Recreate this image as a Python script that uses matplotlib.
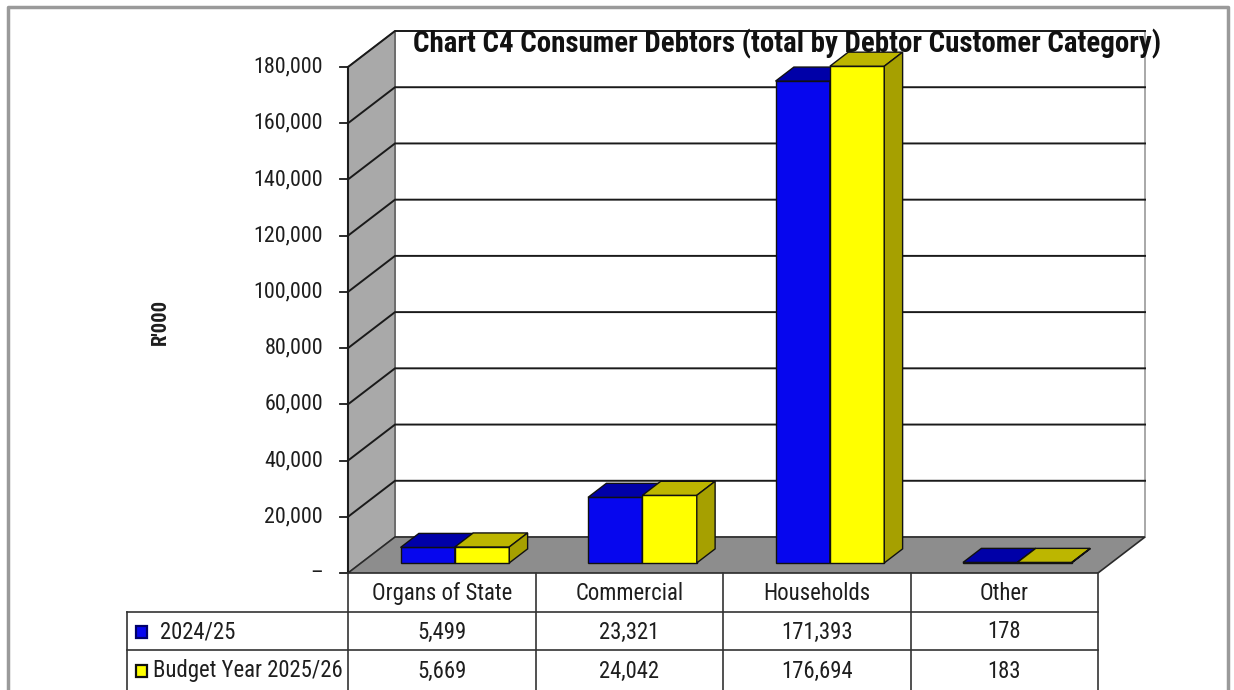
import matplotlib
matplotlib.use('Agg')
import matplotlib.pyplot as plt
from matplotlib.patches import Polygon, Rectangle
from matplotlib.transforms import blended_transform_factory

# data
categories = ['Organs of State', 'Commercial', 'Households', 'Other']
series_names = ['2024/25', 'Budget Year 2025/26']
values_2024 = [5499, 23321, 171393, 178]
values_2025 = [5669, 24042, 176694, 183]
y_ticks = [0, 20000, 40000, 60000, 80000, 100000, 120000, 140000, 160000, 180000]

title = 'Chart C4 Consumer Debtors (total by Debtor Customer Category)'
ylabel = "R'000"

front_cols = ['#0606EE', '#FFFF00']
top_cols = ['#0000A8', '#BDB600']
side_cols = ['#00007A', '#A6A000']
txt_col = '#1e1e1e'

plt.rcParams['font.family'] = ['Roboto Condensed', 'Liberation Sans', 'DejaVu Sans']

W, H = 1234, 690
fig = plt.figure(figsize=(W / 100, H / 100), dpi=100)
renderer = fig.canvas.get_renderer()


def fit_size(s, target, weight='normal', horiz=True):
    # font size that gives the wanted pixel width (or height)
    t = fig.text(0, 0, s, fontsize=20, fontweight=weight)
    bb = t.get_window_extent(renderer)
    t.remove()
    return 20 * target / (bb.width if horiz else bb.height) if horiz else 20 * target / bb.width


tick_fs = fit_size('180,000', 70)
table_fs = fit_size('Organs of State', 140)
title_fs = fit_size(title, 745, 'bold')
ylab_fs = fit_size(ylabel, 46, 'bold')

# front plane of the 3d box in pixels
x0_px, cat_px = 348, 187.5
y0_px, ytop_px = 573, 67
vmax = 180000
vpx = (y0_px - ytop_px) / vmax
depth_px = (47, 36)
DX = depth_px[0] / cat_px
DY = depth_px[1] / vpx

ax = fig.add_axes([0, 0, 1, 1])
ax.set_xlim((0 - x0_px) / cat_px - 0.5, (W - x0_px) / cat_px - 0.5)
ax.set_ylim((y0_px - H) / vpx, y0_px / vpx)
ax.axis('off')

pix = fig.add_axes([0, 0, 1, 1], zorder=5)
pix.set_xlim(0, W)
pix.set_ylim(H, 0)
pix.axis('off')
pix.patch.set_alpha(0)

n = len(categories)
xl, xr = -0.5, n - 0.5

# walls and floor
ax.add_patch(Polygon([(xl + DX, DY), (xr + DX, DY), (xr + DX, vmax + DY), (xl + DX, vmax + DY)],
                     closed=True, facecolor='white', edgecolor='#9a9a9a', lw=1.2, zorder=1))
ax.add_patch(Polygon([(xl, 0), (xl, vmax), (xl + DX, vmax + DY), (xl + DX, DY)],
                     closed=True, facecolor='#a9a9a9', edgecolor='#555555', lw=1, zorder=1))
for v in y_ticks[1:]:
    ax.plot([xl, xl + DX, xr + DX], [v, v + DY, v + DY], color='#1a1a1a', lw=1.4, zorder=2)
ax.add_patch(Polygon([(xl, 0), (xr, 0), (xr + DX, DY), (xl + DX, DY)],
                     closed=True, facecolor='#8d8d8d', edgecolor='#2a2a2a', lw=1.2, zorder=3))
ax.plot([xl, xl], [0, vmax], color='#1a1a1a', lw=1.5, zorder=3)

# tick marks and labels
for v in y_ticks:
    ax.plot([xl - 8 / cat_px, xl], [v, v], color='#1a1a1a', lw=1.3, zorder=3)
    lab = '–' if v == 0 else f'{v:,}'
    ax.text(xl - 25 / cat_px, v, lab, ha='right', va='center', fontsize=tick_fs, color=txt_col)

# 3d bars
bw = 0.29
z0, dz = 0.28, 0.39
for s, vals in enumerate([values_2024, values_2025]):
    for i, h in enumerate(vals):
        left = i - bw + s * bw + z0 * DX
        base = z0 * DY
        ax.bar(left, h, bw, bottom=base, align='edge', color=front_cols[s],
               edgecolor='#111111', lw=1, zorder=4 + s)
        top = base + h
        ax.add_patch(Polygon([(left, top), (left + bw, top), (left + bw + dz * DX, top + dz * DY),
                              (left + dz * DX, top + dz * DY)], closed=True,
                             facecolor=top_cols[s], edgecolor='#111111', lw=1, zorder=4 + s))
        ax.add_patch(Polygon([(left + bw, base), (left + bw + dz * DX, base + dz * DY),
                              (left + bw + dz * DX, top + dz * DY), (left + bw, top)], closed=True,
                             facecolor=side_cols[s], edgecolor='#111111', lw=1, zorder=4 + s))

# data table under the chart
bt = blended_transform_factory(ax.transData, pix.transData)
row_y = [573, 612, 650, 690]
leg_left = 127
line_kw = dict(color='#333333', lw=1.2)
for k in range(n + 1):
    pix.plot([x0_px + k * cat_px] * 2, [row_y[0], H], **line_kw)
for r in row_y[1:3]:
    pix.plot([leg_left, x0_px + n * cat_px], [r, r], **line_kw)
pix.plot([leg_left, leg_left], [row_y[1], H], **line_kw)
for i, c in enumerate(categories):
    ax.text(i, (row_y[0] + row_y[1]) / 2 + 1, c, transform=bt, ha='center', va='center',
            fontsize=table_fs, color=txt_col)
    for s, vals in enumerate([values_2024, values_2025]):
        ax.text(i, (row_y[s + 1] + row_y[s + 2]) / 2 + 1, f'{vals[i]:,}', transform=bt,
                ha='center', va='center', fontsize=table_fs, color=txt_col)
key_edge = ['#00006a', '#111111']
for s, name in enumerate(series_names):
    yc = (row_y[s + 1] + row_y[s + 2]) / 2 + 1
    pix.add_patch(Rectangle((136, yc - 6), 11, 12, facecolor=front_cols[s],
                            edgecolor=key_edge[s], lw=1.6))
    pix.text(153 if s else 160, yc, name, ha='left', va='center', fontsize=table_fs, color=txt_col)

# title and axis label
pix.text(787, 44, title, ha='center', va='center', fontsize=title_fs, fontweight='bold',
         color='#111111', zorder=10)
pix.text(160, 322, ylabel, rotation=90, ha='center', va='center', fontsize=ylab_fs,
         fontweight='bold', color=txt_col)

# outer frame
pix.plot([8, 8, 1228, 1228], [H, 6.5, 6.5, H], color='#9a9a9a', lw=2.5)

fig.savefig('out.png', dpi=100)
